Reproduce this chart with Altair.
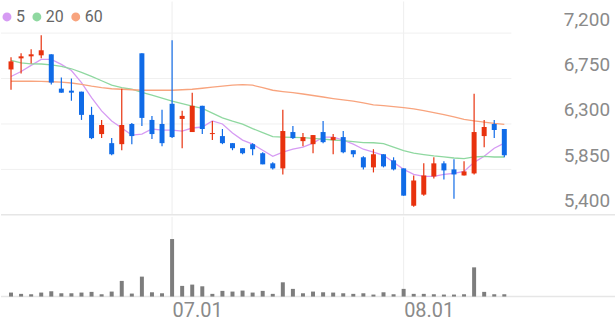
import altair as alt
import pandas as pd

# ---- data ----
opens = [6840,6950,6970,6980,6990,6650,6630,6620,6390,6200,
         6110,6100,6300,7000,6340,6300,6500,6350,6220,6480,
         6200,6180,6110,6060,6100,6010,5910,5860,6220,6130,
         6100,6220,6140,6170,6040,5970,5870,6000,5940,5860,
         5490,5600,5780,5910,5850,5790,5810,6180,6300,6250]
closes = [6920,6970,6990,7030,6710,6610,6610,6390,6160,6290,
          6000,6290,6180,6360,6200,6110,6170,6380,6480,6250,
          6210,6110,6060,6010,6050,5900,5860,6230,6160,6170,
          6190,6120,6170,6020,6000,5870,6000,5880,5850,5590,
          5740,5790,5910,5840,5800,5830,6220,6270,6240,5990]
highs = [6960,7000,7040,7180,6990,6760,6750,6620,6470,6340,
         6160,6650,6310,7000,6380,6440,7130,6430,6610,6480,
         6330,6250,6110,6060,6110,6020,5920,6440,6280,6210,
         6190,6330,6200,6230,6040,5980,6050,6000,5970,5860,
         5790,5910,5970,5930,5950,5930,6600,6340,6340,6250]
lows = [6640,6800,6900,6950,6690,6610,6530,6340,6150,6160,
        5990,6040,6100,6280,6150,6080,6160,6060,6220,6200,
        6140,6100,6040,6000,5990,5900,5850,5800,6150,6080,
        6010,6110,6000,6010,5970,5850,5820,5870,5840,5590,
        5480,5590,5760,5750,5560,5790,5800,6070,6160,5970]
volumes = [4000,2700,2300,4000,5300,3300,3300,4000,4700,2300,
           5000,15700,3000,20000,4300,3300,57700,10700,12000,10300,
           2700,5700,5000,6000,4000,5700,2700,14300,7700,3300,
           5000,4300,4000,3300,2700,3300,2000,4300,2300,7700,
           2700,2700,2300,2000,2000,2300,29300,4700,2300,2300]
ma5 = [6770,6820,6880,6940,6940,6890,6830,6710,6560,6430,
       6330,6260,6190,6200,6250,6240,6240,6230,6260,6270,
       6330,6300,6210,6140,6100,6040,5980,6020,6050,6070,
       6110,6170,6170,6140,6100,6050,6020,5990,5920,5850,
       5800,5780,5780,5800,5810,5830,5920,5980,6060,6110]
ma20 = [6930,6906,6896,6894,6886,6871,6847,6812,6772,6728,
        6684,6659,6644,6614,6585,6555,6526,6501,6476,6454,
        6407,6361,6328,6298,6254,6215,6175,6170,6167,6165,
        6157,6150,6141,6136,6126,6116,6114,6106,6071,6037,
        6012,5997,5983,5973,5963,5956,5973,5978,5973,5973]
ma60 = [6723,6723,6723,6721,6718,6715,6706,6693,6674,6659,
        6649,6644,6639,6634,6634,6634,6634,6639,6644,6654,
        6664,6674,6684,6690,6684,6659,6634,6621,6610,6597,
        6582,6567,6552,6538,6526,6508,6490,6481,6471,6461,
        6449,6432,6412,6392,6371,6345,6330,6318,6305,6296]

price_ticks = [7200, 6750, 6300, 5850, 5400]
price_tick_labels = ["7,200", "6,750", "6,300", "5,850", "5,400"]
date_ticks = [16, 39]
date_labels = ["07.01", "08.01"]
ma_names = ["5", "20", "60"]
ma_colors = ["#d69bf3", "#8fd8a0", "#f8a47e"]

UP = "#e8320e"
DOWN = "#106be7"
W = 616
PH = 214   # price panel height
VH = 80    # volume panel height

idx = list(range(len(opens)))
df = pd.DataFrame({"i": idx, "open": opens, "close": closes,
                   "high": highs, "low": lows, "vol": volumes})
df["dir"] = ["up" if c >= o else "down" for o, c in zip(opens, closes)]

ma_df = pd.concat([
    pd.DataFrame({"i": idx, "name": n, "value": v})
    for n, v in zip(ma_names, [ma5, ma20, ma60])
], ignore_index=True)

tick_df = pd.DataFrame({"p": price_ticks, "label": price_tick_labels})
grid_df = tick_df[tick_df.p > min(price_ticks)].reset_index(drop=True)
base_df = tick_df[tick_df.p == min(price_ticks)].reset_index(drop=True)
date_df = pd.DataFrame({"d": date_ticks, "label": date_labels})

# legend layout (pixel positions computed from label lengths)
LEG_Y, CHAR_W, SYM_GAP, ITEM_GAP = 15.5, 9, 9, 12
leg_rows, cx = [], 6
for n, c in zip(ma_names, ma_colors):
    tx = cx + SYM_GAP
    leg_rows.append({"name": n, "col": c, "cx": cx, "tx": tx, "y": LEG_Y})
    cx = tx + len(n) * CHAR_W + ITEM_GAP
leg_df = pd.DataFrame(leg_rows)

xs = alt.Scale(domain=[-0.5, 59.5], nice=False, zero=False)
ys = alt.Scale(domain=[5400, 7513], nice=False, zero=False)
vs = alt.Scale(domain=[0, 80000], nice=False, zero=False)
X = alt.X("i:Q", scale=xs, axis=None)
dir_color = alt.Color("dir:N", scale=alt.Scale(domain=["up", "down"], range=[UP, DOWN]), legend=None)

# ---- price panel ----
vgrid = alt.Chart(date_df).mark_rule(color="#eeeeee", strokeWidth=1).encode(
    x=alt.X("d:Q", scale=xs, axis=None), y=alt.value(0), y2=alt.value(PH))
hgrid = alt.Chart(grid_df).mark_rule(color="#f0f0f0", strokeWidth=1).encode(
    y=alt.Y("p:Q", scale=ys, axis=None), x=alt.value(0), x2=alt.value(512))
sep = alt.Chart(base_df).mark_rule(color="#e6e6e6", strokeWidth=1.5).encode(
    y=alt.Y("p:Q", scale=ys, axis=None), x=alt.value(0), x2=alt.value(W))
ylabels = alt.Chart(tick_df).mark_text(align="right", baseline="middle", dy=-13.5,
                                        fontSize=19, font="Roboto", color="#8a8a8a").encode(
    y=alt.Y("p:Q", scale=ys, axis=None), x=alt.value(611), text="label:N")

wick = alt.Chart(df).mark_rule(strokeWidth=1.2).encode(
    x=X, y=alt.Y("low:Q", scale=ys, axis=None), y2="high:Q", color=dir_color)
body = alt.Chart(df).mark_bar(size=5).encode(
    x=X, y=alt.Y("open:Q", scale=ys, axis=None), y2="close:Q", color=dir_color)

ma_lines = alt.Chart(ma_df).mark_line(strokeWidth=1.3).encode(
    x=X, y=alt.Y("value:Q", scale=ys, axis=None),
    stroke=alt.Stroke("name:N", scale=alt.Scale(domain=ma_names, range=ma_colors), legend=None),
    detail="name:N")

leg_sym = alt.Chart(leg_df).mark_circle(size=80, opacity=1).encode(
    x=alt.X("cx:Q", scale=None, axis=None), y=alt.Y("y:Q", scale=None, axis=None),
    fill=alt.Fill("col:N", scale=None))
leg_txt = alt.Chart(leg_df).mark_text(align="left", baseline="middle", fontSize=16,
                                      font="Roboto", color="#666666").encode(
    x=alt.X("tx:Q", scale=None, axis=None), y=alt.Y("y:Q", scale=None, axis=None),
    text="name:N")

price = alt.layer(vgrid, hgrid, sep, ylabels, ma_lines, wick, body, leg_sym, leg_txt).properties(
    width=W, height=PH)

# ---- volume panel ----
label_expr = " : ".join(
    f"datum.value == {d} ? '{l}'" for d, l in zip(date_ticks, date_labels)) + " : ''"
x_axis = alt.Axis(values=date_ticks, labelExpr=label_expr, title=None,
                  labelAlign="left", ticks=False, domain=False, grid=False,
                  labelFontSize=20, labelFont="Roboto", labelColor="#8a8a8a", labelPadding=4)
vgrid2 = alt.Chart(date_df).mark_rule(color="#eeeeee", strokeWidth=1).encode(
    x=alt.X("d:Q", scale=xs, axis=x_axis), y=alt.value(0), y2=alt.value(VH))
vline = alt.Chart(pd.DataFrame({"v": [0]})).mark_rule(color="#e6e6e6", strokeWidth=1.5).encode(
    y=alt.Y("v:Q", scale=vs, axis=None), x=alt.value(0), x2=alt.value(W))
bars = alt.Chart(df).mark_bar(size=4, color="#7d7d7d").encode(
    x=alt.X("i:Q", scale=xs, axis=x_axis), y=alt.Y("vol:Q", scale=vs, axis=None))
volume = alt.layer(vgrid2, vline, bars).properties(width=W, height=VH)

chart = alt.vconcat(price, volume, spacing=0).properties(padding=0).configure_view(stroke=None)

chart.save("out.html", embed_options={"renderer": "svg", "actions": False})
